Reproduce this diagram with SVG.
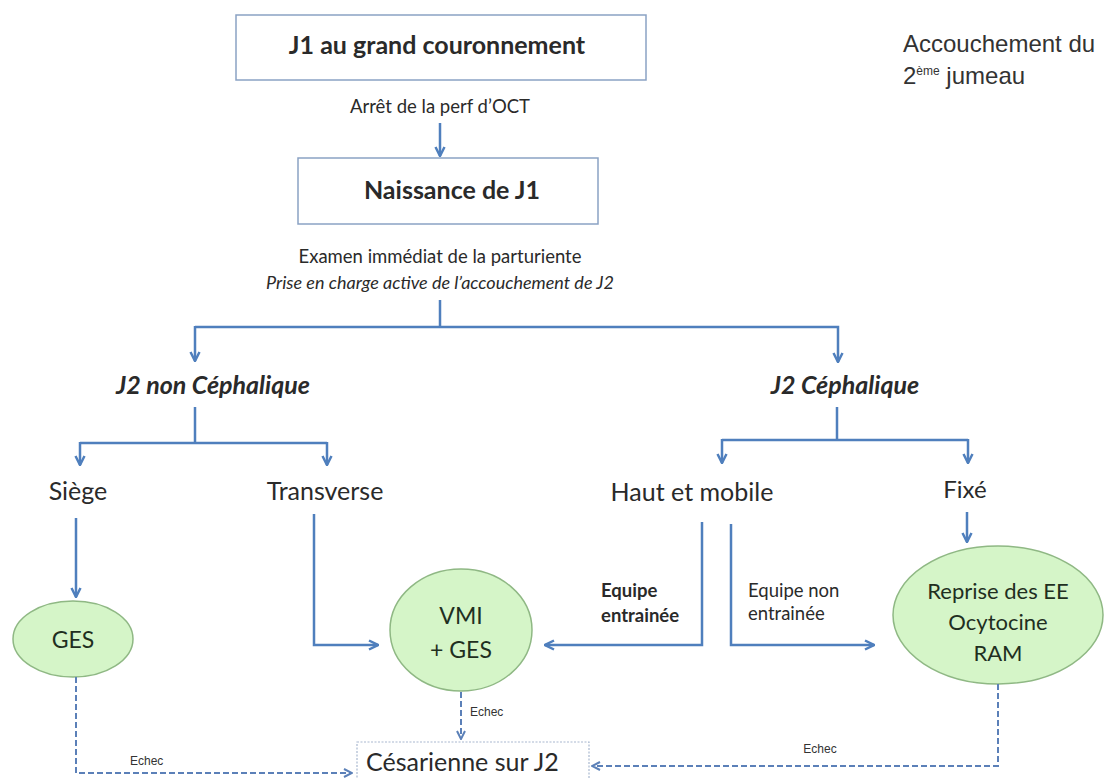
<svg xmlns="http://www.w3.org/2000/svg" width="1119" height="778" viewBox="0 0 1119 778">
<style>
.t{font-family:Lato,"Open Sans",sans-serif;fill:#2a2a2a}
.b{font-weight:bold}
.i{font-style:italic}
.box{fill:#fff;stroke:#8aa2c4;stroke-width:1.5}
.ell{fill:#d5f5c8;stroke:#8fb884;stroke-width:1.5}
.ln{fill:none;stroke:#4f7fbd;stroke-width:2.5}
.dl{fill:none;stroke:#5b80b8;stroke-width:2;stroke-dasharray:6 3}
.h{font-family:"Liberation Sans",Arial,sans-serif;fill:#333}
.et{fill:#1f2f1f}
</style>
<defs>
<marker id="a" viewBox="0 0 10 10" refX="9" refY="5" markerWidth="4.5" markerHeight="4.5" orient="auto" markerUnits="strokeWidth">
<polyline points="1,1 9,5 1,9" fill="none" stroke="#4f7fbd" stroke-width="2.2"/>
</marker>
<marker id="ad" viewBox="0 0 10 10" refX="9" refY="5" markerWidth="5" markerHeight="5" orient="auto" markerUnits="strokeWidth">
<polyline points="1,1 9,5 1,9" fill="none" stroke="#5b80b8" stroke-width="2"/>
</marker>
</defs>
<rect width="1119" height="778" fill="#fff"/>
<g id="title">
<text class="h" x="903" y="52" font-size="24">Accouchement du</text>
<text class="h" x="903" y="84" font-size="24">2<tspan font-size="12" dy="-9">ème</tspan><tspan dy="9"> jumeau</tspan></text>
</g>
<g id="n-j1">
<rect class="box" x="236" y="15" width="410" height="65"/>
<text class="t b" x="437" y="54" font-size="25" text-anchor="middle">J1 au grand couronnement</text>
</g>
<g id="n-naissance">
<rect class="box" x="298" y="158" width="300" height="66"/>
<text class="t b" x="452" y="199" font-size="25" text-anchor="middle">Naissance de J1</text>
</g>
<g id="n-j2nc"><text class="t b i" x="213" y="394" font-size="25" text-anchor="middle">J2 non Céphalique</text></g>
<g id="n-j2c"><text class="t b i" x="845" y="394" font-size="25" text-anchor="middle">J2 Céphalique</text></g>
<g id="n-siege"><text class="t" x="78" y="500" font-size="25" text-anchor="middle">Siège</text></g>
<g id="n-transverse"><text class="t" x="325" y="500" font-size="25" text-anchor="middle">Transverse</text></g>
<g id="n-haut"><text class="t" x="692" y="501" font-size="25" text-anchor="middle">Haut et mobile</text></g>
<g id="n-fixe"><text class="t" x="965" y="498" font-size="24" text-anchor="middle">Fixé</text></g>
<g id="n-ges">
<ellipse class="ell" cx="73" cy="639" rx="60" ry="38"/>
<text class="t et" x="73" y="648" font-size="23" text-anchor="middle">GES</text>
</g>
<g id="n-vmi">
<ellipse class="ell" cx="461" cy="630" rx="71" ry="61"/>
<text class="t et" x="461" y="624" font-size="23" text-anchor="middle">VMI</text>
<text class="t et" x="461" y="658" font-size="23" text-anchor="middle">+ GES</text>
</g>
<g id="n-reprise">
<ellipse class="ell" cx="998" cy="615" rx="105" ry="69"/>
<text class="t et" x="998" y="599" font-size="22" text-anchor="middle">Reprise des EE</text>
<text class="t et" x="998" y="630" font-size="22" text-anchor="middle">Ocytocine</text>
<text class="t et" x="998" y="661" font-size="22" text-anchor="middle">RAM</text>
</g>
<g id="n-cesarienne">
<rect x="357" y="742" width="232" height="50" fill="#fff" stroke="#a9b8cf" stroke-width="1.2" stroke-dasharray="2 1.5"/>
<text class="t" x="366" y="771" font-size="25">Césarienne sur J2</text>
</g>
<g id="connectors">
<text class="t" x="440" y="113" font-size="18.5" text-anchor="middle">Arrêt de la perf d’OCT</text>
<line class="ln" x1="440" y1="123" x2="440" y2="156" marker-end="url(#a)"/>
<text class="t" x="440" y="263" font-size="18.5" text-anchor="middle">Examen immédiat de la parturiente</text>
<text class="t i" x="440" y="289" font-size="18" text-anchor="middle">Prise en charge active de l’accouchement de J2</text>
<polyline class="ln" points="440,300 440,327"/>
<polyline class="ln" points="195,327 838,327 838,362" marker-end="url(#a)"/>
<line class="ln" x1="195" y1="326" x2="195" y2="361" marker-end="url(#a)"/>
<polyline class="ln" points="195,407 195,443"/>
<line class="ln" x1="80" y1="443" x2="327" y2="443"/>
<line class="ln" x1="80" y1="442" x2="80" y2="465" marker-end="url(#a)"/>
<line class="ln" x1="327" y1="442" x2="327" y2="465" marker-end="url(#a)"/>
<polyline class="ln" points="837,407 837,440"/>
<line class="ln" x1="722" y1="440" x2="968" y2="440"/>
<line class="ln" x1="722" y1="439" x2="722" y2="463" marker-end="url(#a)"/>
<line class="ln" x1="968" y1="439" x2="968" y2="463" marker-end="url(#a)"/>
<line class="ln" x1="76" y1="518" x2="76" y2="597" marker-end="url(#a)"/>
<polyline class="ln" points="314,514 314,645 378,645" marker-end="url(#a)"/>
<polyline class="ln" points="702,522 702,645 545,645" marker-end="url(#a)"/>
<polyline class="ln" points="731,524 731,645 874,645" marker-end="url(#a)"/>
<text class="t b" x="601" y="597" font-size="18.5">Equipe</text>
<text class="t b" x="601" y="622" font-size="18.5">entrainée</text>
<text class="t" x="748" y="597" font-size="18.5">Equipe non</text>
<text class="t" x="748" y="620" font-size="18.5">entrainée</text>
<line class="ln" x1="967" y1="512" x2="967" y2="542" marker-end="url(#a)"/>
<polyline class="dl" points="76,677 76,773 352,773" marker-end="url(#ad)"/>
<text class="h" x="130" y="765" font-size="12">Echec</text>
<line class="dl" x1="461" y1="692" x2="461" y2="739" marker-end="url(#ad)"/>
<text class="h" x="470" y="716" font-size="12">Echec</text>
<polyline class="dl" points="998,684 998,766 592,766" marker-end="url(#ad)"/>
<text class="h" x="820" y="753" font-size="12" text-anchor="middle">Echec</text>
</g>
</svg>
